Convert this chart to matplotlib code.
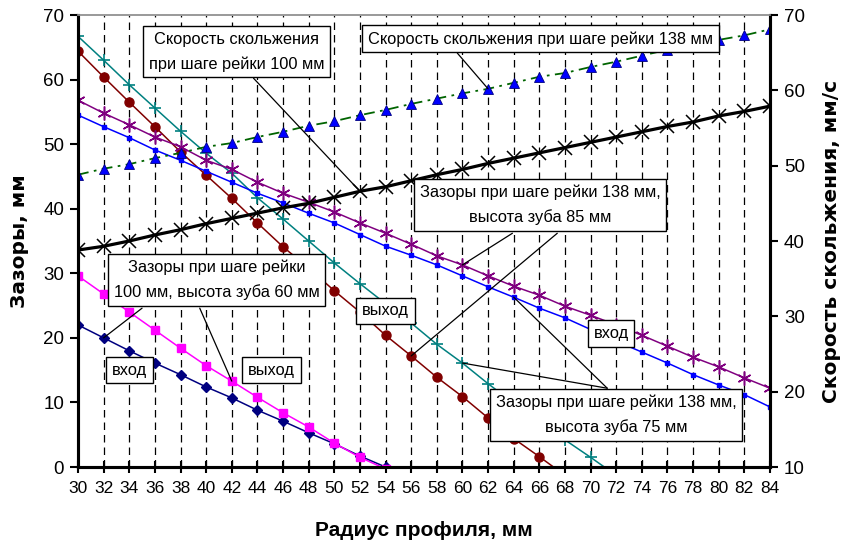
import matplotlib
matplotlib.use('Agg')
import matplotlib.pyplot as plt

# радиус профиля, мм
radius = list(range(30, 86, 2))

# зазоры, мм (левая ось)
gap_100_60_in = [22.0, 20.0, 18.0, 16.1, 14.3, 12.4, 10.7, 8.8, 7.1, 5.3, 3.6, 1.7, 0.0, -1.8]
gap_100_60_out = [29.6, 26.8, 24.0, 21.2, 18.4, 15.7, 13.3, 10.8, 8.4, 6.2, 3.7, 1.5, -0.3]
gap_138_85_in = [56.8, 54.8, 53.0, 51.1, 49.6, 47.5, 46.1, 44.1, 42.4, 41.0, 39.5, 37.8, 36.2, 34.5,
                 32.7, 31.3, 29.6, 28.0, 26.6, 24.9, 23.5, 22.0, 20.4, 18.7, 17.0, 15.5, 13.8, 12.2]
gap_138_85_out = [64.4, 60.4, 56.5, 52.7, 48.8, 45.2, 41.6, 37.8, 34.1, 30.8, 27.3, 24.0, 20.4, 17.2,
                  13.9, 10.9, 7.6, 4.4, 1.6, -1.3]
gap_138_75_in = [54.5, 52.7, 51.0, 49.1, 47.5, 45.8, 44.1, 42.4, 40.9, 39.3, 37.8, 36.0, 34.2, 32.8,
                 31.3, 29.6, 27.9, 26.3, 24.6, 23.1, 21.3, 19.5, 17.8, 16.1, 14.3, 12.7, 11.2, 9.3]
gap_138_75_out = [66.7, 63.0, 59.2, 55.6, 52.0, 48.6, 45.5, 41.7, 38.4, 35.0, 31.6, 28.4, 25.3, 22.3,
                  19.0, 16.1, 12.9, 9.9, 7.0, 4.2, 1.5, -1.3]

# скорость скольжения, мм/с (правая ось)
speed_100 = [38.8, 39.3, 40.0, 40.8, 41.5, 42.3, 43.0, 43.7, 44.4, 45.0, 45.8, 46.6, 47.2, 48.0,
             48.8, 49.5, 50.3, 51.0, 51.7, 52.4, 53.1, 53.8, 54.5, 55.2, 55.8, 56.6, 57.2, 57.9]
speed_138 = [48.8, 49.6, 50.2, 51.0, 51.7, 52.5, 53.0, 53.8, 54.5, 55.3, 55.9, 56.7, 57.4, 58.2,
             58.9, 59.6, 60.2, 61.0, 61.8, 62.3, 63.1, 63.8, 64.6, 65.4, 66.0, 66.7, 67.3, 68.1]

plt.rcParams['font.family'] = ['Liberation Sans', 'DejaVu Sans']

fig = plt.figure(figsize=(8.48, 5.5), dpi=100)
ax = fig.add_axes([78 / 848, 83 / 550, 692 / 848, 452 / 550])
ax2 = ax.twinx()

# вертикальная сетка
for r in radius[1:-1]:
    ax.axvline(r, color='black', lw=0.9, ls=(0, (6, 4)), zorder=0)

def n(arr):
    return radius[:len(arr)]

ax.plot(n(gap_100_60_in), gap_100_60_in, color='#000080', lw=1.1, marker='D', ms=5.5)
ax.plot(n(gap_100_60_out), gap_100_60_out, color='#FF00FF', lw=1.1, marker='s', ms=6)
ax.plot(n(gap_138_85_out), gap_138_85_out, color='#800000', lw=1.1, marker='o', ms=6.5)
ax.plot(n(gap_138_75_out), gap_138_75_out, color='#008080', lw=1.1, marker='+', ms=9, mew=1.2)
ax.plot(n(gap_138_85_in), gap_138_85_in, color='#800080', lw=1.1, marker=(6, 2, 0), ms=10, mew=1.1)
ax.plot(n(gap_138_75_in), gap_138_75_in, color='#0000FF', lw=1.1, marker='s', ms=3)

ax2.plot(radius, speed_100, color='black', lw=2.3, marker='x', ms=10, mew=1.1)
ax2.plot(radius, speed_138, color='#006400', lw=1.3, ls=(0, (6, 3, 1.5, 3)),
         marker='^', ms=7, mfc='#0000FF', mec='#000080', mew=0.6)

ax.set_xlim(30, 84)
ax.set_ylim(0, 70)
ax2.set_ylim(10, 70)
ax.set_xticks(radius)
ax.set_yticks(range(0, 71, 10))
ax2.set_yticks(range(10, 71, 10))
ax.tick_params(axis='x', direction='inout', length=8, width=1.5, labelsize=12.5, pad=6)
ax.tick_params(axis='y', direction='out', length=6, width=1.5, labelsize=13.5, pad=4)
ax2.tick_params(axis='y', direction='out', length=6, width=1.5, labelsize=13.5, pad=4)

for a in (ax, ax2):
    a.spines['left'].set_linewidth(2.2)
    a.spines['bottom'].set_linewidth(2.2)
    a.spines['right'].set_linewidth(2.2)
    a.spines['top'].set_color('#999999')
    a.spines['top'].set_linewidth(1.2)

ax.set_ylabel('Зазоры, мм', fontsize=14.5, fontweight='bold',
              family=['DejaVu Sans'], labelpad=10)
ax2.set_ylabel('Скорость скольжения, мм/с', fontsize=14.5, fontweight='bold',
               family=['DejaVu Sans'], labelpad=12)
ax.set_xlabel('Радиус профиля, мм', fontsize=15, fontweight='bold', labelpad=18)

box = dict(boxstyle='square,pad=0.35', fc='white', ec='black', lw=1.0)
lead = dict(arrowstyle='-', color='black', lw=0.9, shrinkA=0, shrinkB=0)
T = ax.transData
T2 = ax2.transData

def label(x, y, s):
    ax2.text(x, y, s, transform=T, ha='center', va='center', fontsize=11.8,
             linespacing=1.75, bbox=box, zorder=10)

def leader(start, point, trans):
    ax2.annotate('', xy=point, xycoords=trans, xytext=start, textcoords=T,
                 arrowprops=lead, zorder=9)

# скорость 100 мм
leader((43.7, 60.2), (radius[11], speed_100[11]), T2)
label(42.4, 64.3, 'Скорость скольжения\nпри шаге рейки 100 мм')

# скорость 138 мм
leader((59.6, 64.1), (radius[16], speed_138[16]), T2)
label(66.1, 66.3, 'Скорость скольжения при шаге рейки 138 мм')

# 138 мм / 85 мм
leader((63.9, 36.2), (radius[15], gap_138_85_in[15]), T)
leader((67.4, 36.2), (radius[13], gap_138_85_out[13]), T)
label(66.05, 40.6, 'Зазоры при шаге рейки 138 мм,\nвысота зуба 85 мм')

# 138 мм / 75 мм
leader((71.3, 12.2), (radius[15], gap_138_75_out[15]), T)
leader((71.3, 12.2), (radius[17], gap_138_75_in[17]), T)
label(72.0, 8.05, 'Зазоры при шаге рейки 138 мм,\nвысота зуба 75 мм')

# 100 мм / 60 мм
leader((35.0, 24.6), (radius[1], gap_100_60_in[1]), T)
leader((39.5, 24.6), (radius[6], gap_100_60_out[6]), T)
label(40.8, 29.0, 'Зазоры при шаге рейки\n100 мм, высота зуба 60 мм')

label(34.0, 15.0, 'вход')
label(45.1, 15.0, 'выход')
label(54.0, 24.2, 'выход')
label(71.6, 20.7, 'вход')

fig.savefig('out.png', dpi=100)
